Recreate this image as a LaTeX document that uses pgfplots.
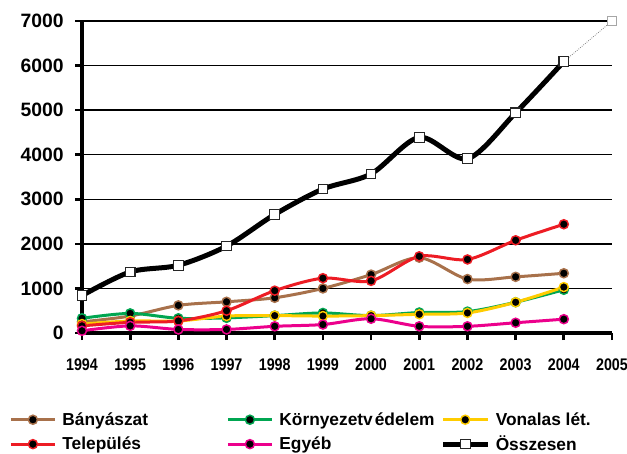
\documentclass[border=0pt]{standalone}
\usepackage{graphicx}
\usepackage{pgfplots}
\pgfplotsset{compat=1.18}
\usepackage{pgfplotstable}
\usepackage{fontspec}
\setmainfont{Liberation Sans}
\definecolor{cBrown}{RGB}{168,113,75}
\definecolor{cGreen}{RGB}{0,166,81}
\definecolor{cYellow}{RGB}{255,204,0}
\definecolor{cRed}{RGB}{237,28,36}
\definecolor{cPink}{RGB}{236,0,140}
\pgfplotstableread{
Year Bany Korny Vonal Telep Egyeb Ossz
1994 250 330 200 160 50 840
1995 380 440 270 240 160 1370
1996 620 330 270 270 80 1520
1997 700 340 380 500 80 1950
1998 790 390 390 950 150 2660
1999 1000 450 380 1230 190 3230
2000 1310 390 390 1170 320 3570
2001 1690 460 420 1720 150 4390
2002 1210 480 450 1650 150 3910
2003 1260 690 690 2080 230 4940
2004 1340 970 1030 2440 310 6090
}\datatable
\pgfplotstableread{
Year Ossz
2004 6090
2005 7000
}\exttable
\begin{document}
\begin{tikzpicture}
\useasboundingbox (0,0) rectangle (470.25pt,339.75pt);
\begin{axis}[
  at={(61.5pt,90pt)}, anchor=south west,
  scale only axis, width=397.5pt, height=234pt,
  xmin=1994, xmax=2005, ymin=0, ymax=7000,
  xtick={1994,...,2005}, ytick={0,1000,...,7000},
  /pgf/number format/assume math mode=true,
  /pgf/number format/1000 sep={},
  xticklabel={\scalebox{0.85}[1]{\pgfmathprintnumber[fixed,precision=0,1000 sep={}]{\tick}}},
  xticklabel style={font=\fontsize{12.6}{14}\selectfont\bfseries, yshift=-10.5pt},
  yticklabel style={font=\fontsize{14.5}{16}\selectfont\bfseries, xshift=-5pt},
  axis x line*=bottom, axis y line*=left,
  axis line style={line width=3pt, black, -},
  tick style={line width=2pt, black},
  tick align=outside, major tick length=5.25pt,
  ymajorgrids, grid style={line width=1.1pt, black},
  clip=false,
  legend columns=3,
  legend cell align=left,
  legend image code/.code={\draw[mark repeat=2,mark phase=2,#1] plot coordinates {(0pt,0pt) (16.5pt,0pt) (33pt,0pt)};},
  legend style={draw=none, fill=none, at={(-0.145,-0.245)}, anchor=north west,
    font=\fontsize{13}{15}\selectfont\bfseries,
    nodes={inner sep=0pt},
    row sep=6.5pt,
    /tikz/every odd column/.append style={column sep=4.5pt}},
]
\addplot[cBrown, line width=2.25pt, smooth, mark=*, mark size=3.4pt, mark options={fill=black, draw=cBrown, line width=1.1pt}] table[x=Year,y=Bany] {\datatable};
\addlegendentry{\makebox[123pt][l]{Bányászat}}
\addplot[cGreen, line width=2.25pt, smooth, mark=*, mark size=3.4pt, mark options={fill=black, draw=cGreen, line width=1.1pt}] table[x=Year,y=Korny] {\datatable};
\addlegendentry{\makebox[121pt][l]{Környezetv\kern1.5pt édelem}}
\addplot[cYellow, line width=2.25pt, smooth, mark=*, mark size=3.4pt, mark options={fill=black, draw=cYellow, line width=1.1pt}] table[x=Year,y=Vonal] {\datatable};
\addlegendentry{Vonalas lét.}
\addplot[cRed, line width=2.25pt, smooth, mark=*, mark size=3.4pt, mark options={fill=black, draw=cRed, line width=1.1pt}] table[x=Year,y=Telep] {\datatable};
\addlegendentry{\makebox[123pt][l]{Település}}
\addplot[cPink, line width=2.25pt, smooth, mark=*, mark size=3.4pt, mark options={fill=black, draw=cPink, line width=1.1pt}] table[x=Year,y=Egyeb] {\datatable};
\addlegendentry{\makebox[121pt][l]{Egyéb}}
\addplot[forget plot, gray, line width=0.6pt, densely dotted, mark=square*, mark size=3.6pt, mark options={solid, fill=white, draw=gray!70, line width=0.8pt}] table[x=Year,y=Ossz] {\exttable};
\addplot[black, line width=3.75pt, smooth, mark=square*, mark size=3.6pt, mark options={solid, fill=white, draw=black!85, line width=0.8pt}] table[x=Year,y=Ossz] {\datatable};
\addlegendentry{Összesen}
\end{axis}
\end{tikzpicture}
\end{document}
